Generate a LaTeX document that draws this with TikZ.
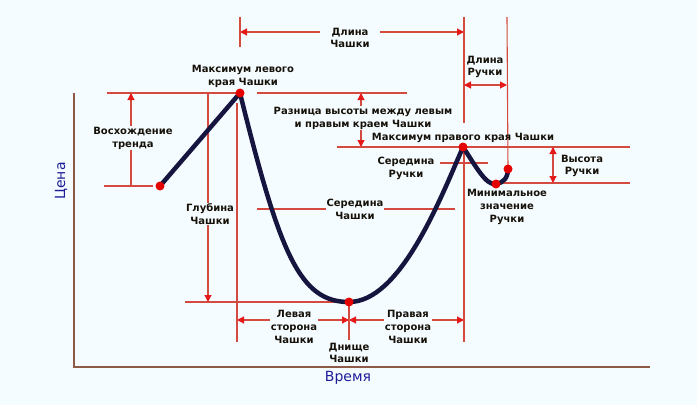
\documentclass[tikz,border=0pt]{standalone}
\usepackage{fontspec}
\setmainfont{DejaVu Sans}
\usetikzlibrary{arrows.meta}
\definecolor{bgcol}{HTML}{F5FCFF}
\definecolor{linered}{HTML}{D44A3E}
\definecolor{tipred}{HTML}{E41A1A}
\definecolor{cupblue}{HTML}{15153F}
\definecolor{axisbrown}{HTML}{8C5A46}
\definecolor{axisblue}{HTML}{1C1C99}
\definecolor{txt}{HTML}{16120A}

\begin{document}
\begin{tikzpicture}[x=1pt, y=-1pt,
  ext/.style={draw=linered, line width=1.1pt},
  dim/.style={ext, {Triangle[length=7pt,width=7pt,color=tipred]}-{Triangle[length=7pt,width=7pt,color=tipred]}},
  dimdown/.style={ext, -{Triangle[length=7pt,width=7pt,color=tipred]}},
  lbl/.style={text=txt, align=center, inner sep=1pt, font=\fontsize{10}{12.8}\selectfont\bfseries},
  mask/.style={lbl, fill=bgcol},
  dot/.style={circle, fill=red!90!black, inner sep=0pt, minimum size=9pt}]
  \fill[bgcol] (0,0) rectangle (697,405);

  % points of the pattern
  \coordinate (start) at (160,186);
  \coordinate (lpeak) at (240,93);
  \coordinate (bottom) at (349,302);
  \coordinate (rpeak) at (463,147);
  \coordinate (hmin) at (496,184);
  \coordinate (hend) at (508,169);

  % axes
  \draw[axisbrown, line width=1.2pt] (74,93) -- (74,367) -- (650,367);
  \node[axisblue, rotate=90, font=\fontsize{14}{16}\selectfont] (price) at (61,181) {Цена};
  \node[axisblue, font=\fontsize{14}{16}\selectfont] (time) at (348,378) {Время};

  % dimension lines (masked by their labels)
  \draw[dimdown] (131,186) -- (131,93);
  \draw[dimdown] (208,93) -- (208,302);
  \draw[dim] (240,32) -- (464,32);
  \draw[dim] (361,93) -- (361,147);
  \draw[ext] (257,209) -- (455,209);
  \draw[dim] (237,320) -- (bottom |- 0,320);
  \draw[dim] (bottom |- 0,320) -- (464,320);

  \node[mask] (rise) at (133,138) {Восхождение\\тренда};
  \node[mask] (depth) at (210,214) {Глубина\\Чашки};
  \node[mask, inner xsep=10pt] (cuplen) at (350,38) {Длина\\Чашки};
  \node[mask] (diff) at (363,118) {Разница высоты между левым\\и правым краем Чашки};
  \node[mask] (cupmid) at (355,209) {Середина\\Чашки};
  \node[mask] (lside) at (294,327) {Левая\\сторона\\Чашки};
  \node[mask] (rside) at (408,327) {Правая\\сторона\\Чашки};

  % extension lines
  \draw[ext] (107,93) -- (lpeak);
  \draw[ext] (257,93) -- (407,93);
  \draw[ext] (104,186) -- (153,186);
  \draw[ext] (240,17) -- (240,47);
  \draw[ext] (237,103) -- (237,342);
  \draw[ext] (185,302) -- (bottom);
  \draw[ext] (bottom) -- (349,340);
  \draw[ext] (464,17) -- (464,123);
  \draw[ext] (464,150) -- (464,342);
  \draw[ext] (507,17) -- (hend);
  \draw[ext] (337,147) -- (630,147);
  \draw[ext] (503,183) -- (630,183);
  \draw[ext] (440,163) -- (488,163);
  \draw[dim] (464,85) -- (507,85);
  \draw[dim] (553,147) -- (553,183);

  % cup and handle
  \draw[cupblue, line width=4.5pt, line join=round, line cap=round]
    (start) -- (lpeak) .. controls (280,255) and (300,302) .. (bottom)
    .. controls (400,302) and (440,200) .. (rpeak)
    .. controls (475,165) and (486,186) .. (hmin)
    .. controls (503,183) and (508,178) .. (hend);
  \foreach \p in {start,lpeak,bottom,rpeak,hmin,hend}
    \node[dot] at (\p) {};

  % other labels
  \node[lbl] (lmax) at (243,76) {Максимум левого\\края Чашки};
  \node[lbl] (handlen) at (485,67) {Длина\\Ручки};
  \node[lbl] (rmax) at (463,138) {Максимум правого края Чашки};
  \node[lbl] (handmid) at (406,168) {Середина\\Ручки};
  \node[lbl] (handht) at (582,166) {Высота\\Ручки};
  \node[lbl] (handmin) at (507,207) {Минимальное\\значение\\Ручки};
  \node[lbl] (cupbot) at (349,353) {Днище\\Чашки};
\end{tikzpicture}
\end{document}
